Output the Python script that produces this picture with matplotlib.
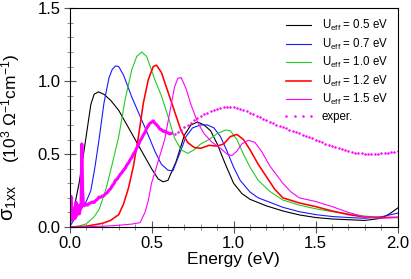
import numpy as np
import matplotlib
matplotlib.use("Agg")
from matplotlib import pyplot as plt
from matplotlib.ticker import MultipleLocator, FormatStrFormatter

plt.rcParams['font.family'] = ['Liberation Sans', 'DejaVu Sans']
plt.rcParams['mathtext.default'] = 'regular'

# theory curves, sigma_1xx (10^3 Ohm^-1 cm^-1) vs energy (eV)
E_05 = [0, 0.03, 0.06, 0.1, 0.13, 0.15, 0.176, 0.21, 0.25, 0.3, 0.35, 0.4, 0.45, 0.5,
        0.54, 0.57, 0.6, 0.65, 0.7, 0.74, 0.78, 0.82, 0.86, 0.9, 0.95, 1.0, 1.05, 1.1,
        1.2, 1.3, 1.4, 1.5, 1.6, 1.7, 1.8, 1.9, 1.95, 2.0]
s_05 = [0, 0.14, 0.31, 0.61, 0.84, 0.91, 0.927, 0.91, 0.87, 0.80, 0.70, 0.60, 0.50, 0.40,
        0.33, 0.31, 0.32, 0.45, 0.63, 0.70, 0.72, 0.70, 0.66, 0.57, 0.43, 0.30, 0.23, 0.19,
        0.145, 0.11, 0.083, 0.065, 0.055, 0.05, 0.045, 0.06, 0.09, 0.13]

E_07 = [0, 0.05, 0.1, 0.13, 0.155, 0.18, 0.21, 0.24, 0.26, 0.28, 0.3, 0.33, 0.38, 0.43,
        0.48, 0.52, 0.56, 0.6, 0.63, 0.67, 0.71, 0.75, 0.8, 0.84, 0.88, 0.92, 0.96, 1.0,
        1.04, 1.1, 1.15, 1.22, 1.3, 1.4, 1.5, 1.6, 1.7, 1.8, 1.9, 2.0]
s_07 = [0, 0.09, 0.17, 0.25, 0.41, 0.60, 0.85, 1.02, 1.08, 1.105, 1.10, 1.04, 0.89, 0.76,
        0.63, 0.52, 0.43, 0.39, 0.385, 0.50, 0.62, 0.68, 0.70, 0.70, 0.68, 0.62, 0.52, 0.41,
        0.32, 0.24, 0.20, 0.17, 0.135, 0.105, 0.085, 0.072, 0.065, 0.06, 0.07, 0.095]

E_10 = [0, 0.05, 0.1, 0.15, 0.18, 0.22, 0.26, 0.3, 0.34, 0.38, 0.41, 0.44, 0.47, 0.52,
        0.56, 0.6, 0.64, 0.68, 0.72, 0.76, 0.8, 0.85, 0.9, 0.95, 0.98, 1.02, 1.06, 1.1,
        1.15, 1.22, 1.3, 1.4, 1.5, 1.6, 1.7, 1.8, 1.9, 2.0]
s_10 = [0, 0.005, 0.02, 0.07, 0.12, 0.25, 0.43, 0.62, 0.88, 1.08, 1.17, 1.20, 1.17, 1.01,
        0.90, 0.76, 0.61, 0.53, 0.505, 0.53, 0.57, 0.60, 0.64, 0.665, 0.66, 0.60, 0.50, 0.41,
        0.32, 0.245, 0.185, 0.15, 0.125, 0.105, 0.09, 0.075, 0.065, 0.066]

E_12 = [0, 0.1, 0.15, 0.2, 0.25, 0.3, 0.33, 0.36, 0.39, 0.42, 0.45, 0.48, 0.51, 0.53,
        0.56, 0.59, 0.62, 0.65, 0.68, 0.72, 0.76, 0.8, 0.85, 0.9, 0.94, 0.98, 1.02, 1.06,
        1.1, 1.15, 1.2, 1.25, 1.3, 1.4, 1.5, 1.6, 1.7, 1.8, 1.9, 2.0]
s_12 = [0, 0.005, 0.015, 0.025, 0.045, 0.085, 0.16, 0.27, 0.42, 0.62, 0.85, 1.01, 1.10, 1.11,
        1.06, 0.96, 0.86, 0.76, 0.66, 0.58, 0.545, 0.54, 0.56, 0.555, 0.57, 0.62, 0.635, 0.60,
        0.53, 0.43, 0.345, 0.26, 0.20, 0.165, 0.14, 0.11, 0.085, 0.068, 0.065, 0.066]

E_15 = [0, 0.2, 0.28, 0.38, 0.43, 0.46, 0.48, 0.5, 0.54, 0.58, 0.61, 0.64, 0.66, 0.68,
        0.71, 0.74, 0.78, 0.82, 0.87, 0.92, 0.96, 0.99, 1.02, 1.05, 1.09, 1.13, 1.17, 1.22,
        1.26, 1.3, 1.35, 1.4, 1.5, 1.6, 1.7, 1.8, 1.9, 2.0]
s_15 = [0, 0.005, 0.01, 0.02, 0.03, 0.10, 0.18, 0.30, 0.45, 0.60, 0.78, 0.96, 1.02, 1.025,
        0.95, 0.84, 0.72, 0.64, 0.58, 0.54, 0.50, 0.49, 0.52, 0.57, 0.595, 0.58, 0.52, 0.42,
        0.36, 0.30, 0.24, 0.20, 0.175, 0.14, 0.10, 0.068, 0.06, 0.066]

# experiment: noisy low-energy part (continuous) and dotted part
E_exp_lo = [0.000, 0.005, 0.010, 0.015, 0.020, 0.025, 0.030, 0.035, 0.040, 0.045,
            0.050, 0.055, 0.060, 0.065, 0.070, 0.075, 0.080, 0.085, 0.090,
            0.10, 0.11, 0.12, 0.13, 0.14, 0.15, 0.16, 0.17, 0.18, 0.19,
            0.20, 0.21, 0.22, 0.23, 0.24, 0.25, 0.26, 0.27, 0.28, 0.29,
            0.30, 0.31, 0.32, 0.33, 0.34, 0.35, 0.36, 0.37, 0.38, 0.39,
            0.40, 0.41, 0.42, 0.43, 0.44, 0.45, 0.46, 0.47, 0.48, 0.49,
            0.50, 0.51, 0.52, 0.53, 0.54, 0.55, 0.56, 0.57, 0.58, 0.59,
            0.60, 0.61, 0.62]
s_exp_lo = [0.06, 0.20, 0.21, 0.09, 0.05, 0.13, 0.10, 0.06, 0.17, 0.08,
            0.11, 0.15, 0.09, 0.12, 0.13, 0.57, 0.25, 0.15, 0.145,
            0.155, 0.150, 0.162, 0.165, 0.172, 0.168, 0.182, 0.190, 0.205, 0.204,
            0.212, 0.215, 0.228, 0.235, 0.252, 0.262, 0.282, 0.296, 0.320, 0.328,
            0.345, 0.362, 0.374, 0.392, 0.404, 0.427, 0.440, 0.462, 0.478, 0.502,
            0.518, 0.542, 0.563, 0.592, 0.608, 0.632, 0.648, 0.677, 0.694, 0.712,
            0.718, 0.728, 0.712, 0.702, 0.690, 0.672, 0.668, 0.656, 0.658, 0.648,
            0.646, 0.638, 0.642]

s_exp_hi = [0.640, 0.652, 0.667, 0.683, 0.700, 0.716, 0.732, 0.747, 0.760, 0.772,
            0.783, 0.793, 0.801, 0.809, 0.815, 0.820, 0.823, 0.824, 0.823, 0.818,
            0.812, 0.804, 0.795, 0.785, 0.775, 0.764, 0.753, 0.743, 0.733, 0.723,
            0.713, 0.703, 0.694, 0.685, 0.676, 0.668, 0.659, 0.650, 0.642, 0.633,
            0.625, 0.616, 0.607, 0.598, 0.590, 0.581, 0.572, 0.563, 0.555, 0.547,
            0.539, 0.532, 0.525, 0.519, 0.514, 0.510, 0.507, 0.505, 0.503, 0.502,
            0.502, 0.502, 0.503, 0.505, 0.507, 0.510, 0.513, 0.516, 0.520]
E_exp_hi = np.linspace(0.64, 2.0, len(s_exp_hi))

U_labels = ["0.5", "0.7", "1.0", "1.2", "1.5"]
colors = ["black", "#1a1aff", "#22cc22", "red", "magenta"]
widths = [0.8, 0.8, 0.8, 1.15, 0.8]

fig = plt.figure(figsize=(4.11, 2.79), dpi=100)
ax = fig.add_axes([69.5 / 411, 1 - 227 / 279, (397.7 - 69.5) / 411, (227 - 8.3) / 279])

curves = [(E_05, s_05), (E_07, s_07), (E_10, s_10), (E_12, s_12), (E_15, s_15)]
for (E, s), u, c, w in zip(curves, U_labels, colors, widths):
    ax.plot(E, s, color=c, lw=w, label=f"U$_{{eff}}$ = {u} eV")

ax.plot(E_exp_lo, s_exp_lo, color="magenta", lw=2.2, solid_joinstyle="round")
ax.plot(E_exp_hi, s_exp_hi, ls="none", marker="o", ms=1.8, mew=0,
        color="magenta", label="exper.")

ax.set_xlim(0, 2.0)
ax.set_ylim(0, 1.5)
ax.xaxis.set_major_locator(MultipleLocator(0.5))
ax.xaxis.set_minor_locator(MultipleLocator(0.1))
ax.yaxis.set_major_locator(MultipleLocator(0.5))
ax.yaxis.set_minor_locator(MultipleLocator(0.1))
ax.xaxis.set_major_formatter(FormatStrFormatter("%.1f"))
ax.yaxis.set_major_formatter(FormatStrFormatter("%.1f"))
ax.tick_params(which="major", direction="inout", length=9, width=0.8,
               color="#555555", labelsize=12, pad=2)
ax.tick_params(which="minor", direction="inout", length=5, width=0.6, color="#777777")
for sp in ax.spines.values():
    sp.set_linewidth(0.8)

ax.set_xlabel("Energy (eV)", fontsize=12.5, labelpad=1)

fig.text(14 / 411, 1 - 221 / 279, r"$\sigma_{1xx}$", fontsize=14.5, rotation=90,
         rotation_mode="anchor", ha="left", va="baseline")
fig.text(16 / 411, 1 - 163 / 279, r"(10$^3$ $\Omega^{-1}$cm$^{-1}$)", fontsize=12.5,
         rotation=90, rotation_mode="anchor", ha="left", va="baseline")

ax.legend(loc="upper right", frameon=False, fontsize=8.3, numpoints=4,
          handlelength=2.8, handletextpad=0.6, labelspacing=0.3,
          borderaxespad=0.45)

fig.savefig("out.png", dpi=100)
